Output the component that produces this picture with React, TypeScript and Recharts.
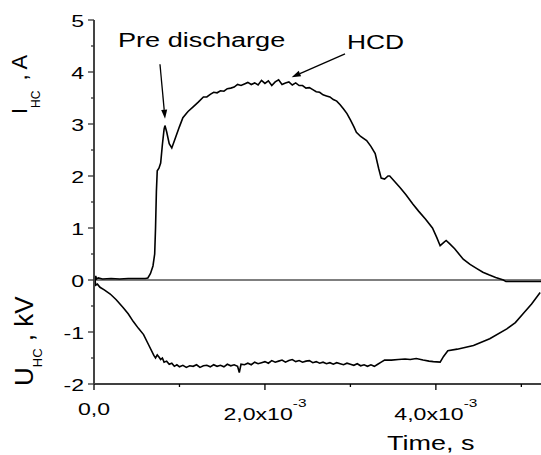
import React from 'react';
import { LineChart, Line, XAxis, YAxis, ReferenceLine } from 'recharts';

const FONT = "'Liberation Sans', Arial, Helvetica, sans-serif";

// time in ms, current in A
const currentTime = [
  0.0, 0.01, 0.02, 0.03, 0.05, 0.1, 0.2, 0.3, 0.4, 0.5, 0.6, 0.63, 0.66, 0.69, 0.71, 0.72, 0.73, 0.74,
  0.76, 0.78, 0.8, 0.82, 0.83, 0.85, 0.88, 0.91, 0.95, 1.0, 1.04, 1.1, 1.16, 1.22,
  1.28, 1.32, 1.36, 1.4, 1.44, 1.48, 1.52, 1.56, 1.6, 1.64, 1.68, 1.72, 1.76, 1.8, 1.84, 1.88, 1.92,
  1.96, 2.0, 2.04, 2.08, 2.12, 2.16, 2.2, 2.24, 2.28, 2.32, 2.36, 2.4, 2.44, 2.48, 2.52, 2.56, 2.6,
  2.64, 2.68, 2.72, 2.76, 2.8, 2.84,
  2.88, 2.92, 2.96, 3.0, 3.04, 3.07, 3.12, 3.19, 3.24, 3.29, 3.33, 3.36, 3.4, 3.44, 3.46, 3.52, 3.58,
  3.65, 3.73, 3.8, 3.88, 3.96, 4.01, 4.05, 4.09, 4.12, 4.16, 4.22, 4.32, 4.4, 4.48, 4.55, 4.62, 4.7,
  4.79, 4.82, 5.0, 5.23,
];
const currentAmps = [
  0.1, -0.02, 0.08, 0.02, 0.04, 0.02, 0.03, 0.02, 0.03, 0.03, 0.03, 0.04, 0.12, 0.27, 0.5, 1.0, 1.7, 2.1,
  2.15, 2.25, 2.6, 2.9, 2.97, 2.85, 2.62, 2.54, 2.72, 2.95, 3.12, 3.24, 3.33, 3.42,
  3.52, 3.52, 3.57, 3.61, 3.6, 3.64, 3.63, 3.68, 3.69, 3.71, 3.76, 3.74, 3.77, 3.8, 3.76, 3.79, 3.75,
  3.84, 3.78, 3.83, 3.74, 3.81, 3.85, 3.76, 3.79, 3.81, 3.75, 3.79, 3.74, 3.74, 3.69, 3.7, 3.66, 3.62,
  3.61, 3.56, 3.54, 3.52, 3.47, 3.44,
  3.37, 3.29, 3.2, 3.08, 2.95, 2.84, 2.76, 2.68, 2.57, 2.43, 2.15, 1.96, 1.94, 2.0, 2.0, 1.89, 1.78,
  1.64, 1.46, 1.32, 1.17, 1.0, 0.82, 0.66, 0.72, 0.76, 0.7, 0.6, 0.4, 0.3, 0.22, 0.15, 0.1, 0.05,
  0.0, -0.03, -0.03, -0.03,
];

// time in ms, voltage in kV
const voltageTime = [
  0.0, 0.005, 0.01, 0.02, 0.04, 0.07, 0.12, 0.19, 0.26, 0.34, 0.4, 0.46, 0.52, 0.58, 0.64, 0.7, 0.72,
  0.74, 0.76, 0.78, 0.8, 0.82, 0.85, 0.88, 0.91, 0.94, 0.97,
  1.0, 1.04, 1.08, 1.12, 1.16, 1.2, 1.24, 1.28, 1.32, 1.36, 1.4, 1.44, 1.48, 1.52, 1.56, 1.6, 1.64,
  1.68, 1.7, 1.72, 1.76, 1.8, 1.84, 1.88, 1.92, 1.96, 2.0, 2.04, 2.08, 2.12, 2.16, 2.2, 2.24, 2.28,
  2.32, 2.36, 2.4, 2.44, 2.48, 2.52, 2.56, 2.6, 2.64, 2.68, 2.72, 2.76, 2.8, 2.84, 2.88, 2.92, 2.96,
  3.0, 3.04, 3.08, 3.12, 3.16, 3.2, 3.24, 3.28, 3.32,
  3.36, 3.4, 3.48, 3.56, 3.64, 3.7, 3.77, 3.85, 3.92, 3.97, 4.05, 4.09, 4.14, 4.25, 4.44, 4.63, 4.83,
  4.93, 5.02, 5.12, 5.22,
];
const voltageKv = [
  0.05, -0.12, 0.02, -0.1, -0.08, -0.14, -0.19, -0.27, -0.38, -0.53, -0.65, -0.8, -0.93, -1.05, -1.25,
  -1.45, -1.5, -1.44, -1.48, -1.53, -1.5, -1.58, -1.56, -1.62, -1.6, -1.66, -1.63,
  -1.67, -1.64, -1.68, -1.65, -1.66, -1.63, -1.68, -1.65, -1.64, -1.67, -1.63, -1.66, -1.64, -1.67,
  -1.62, -1.65, -1.63, -1.66, -1.78, -1.62, -1.63, -1.6, -1.63, -1.58, -1.61, -1.59, -1.57, -1.6,
  -1.55, -1.58, -1.56, -1.54, -1.58, -1.55, -1.53, -1.57, -1.55, -1.58, -1.56, -1.55, -1.59, -1.57,
  -1.6, -1.58, -1.61, -1.59, -1.62, -1.59, -1.61, -1.63, -1.6, -1.62, -1.64, -1.61, -1.65, -1.63,
  -1.66, -1.63, -1.66, -1.62,
  -1.58, -1.54, -1.54, -1.53, -1.52, -1.53, -1.51, -1.54, -1.56, -1.57, -1.58, -1.47, -1.36, -1.33,
  -1.26, -1.13, -0.94, -0.82, -0.65, -0.46, -0.24,
];

// ticks (x in seconds)
const xTicks = [0, 0.001, 0.002, 0.003, 0.004, 0.005];
const xTickLabels = ['0,0', '', '2,0x10', '', '4,0x10', ''];
const yTicks = [-2, -1.5, -1, -0.5, 0, 0.5, 1, 1.5, 2, 2.5, 3, 3.5, 4, 4.5, 5];
const yTickLabels = ['-2', '', '-1', '', '0', '', '1', '', '2', '', '3', '', '4', '', '5'];

// annotation arrows: [start, tip] in (ms, value)
const preArrow = [{ x: 0.772, y: 4.15 }, { x: 0.831, y: 3.1 }];
const hcdArrow = [{ x: 2.937, y: 4.35 }, { x: 2.313, y: 3.9 }];

const currentData = currentTime.map((t, i) => ({ t: t / 1000, v: currentAmps[i] }));
const voltageData = voltageTime.map((t, i) => ({ t: t / 1000, v: voltageKv[i] }));
const toSec = (pts: { x: number; y: number }[]) => pts.map((p) => ({ x: p.x / 1000, y: p.y }));

function XTick({ x, y, payload, index }: any) {
  const label = xTickLabels[index] ?? '';
  const major = label !== '';
  const isZero = payload.value === 0;
  return (
    <g>
      <line x1={x} x2={x} y1={y} y2={y + (major ? 6 : 3)} stroke="#000" strokeWidth={1.3} />
      {major && (
        <text
          transform={`translate(${x},${y + (isZero ? 31 : 36)}) scale(1.4,1)`}
          textAnchor="middle"
          fontSize={16.5}
          fontFamily={FONT}
          fill="#000"
        >
          {label}
          {!isZero && (
            <tspan fontSize={11} dy={-13}>
              -3
            </tspan>
          )}
        </text>
      )}
    </g>
  );
}

function YTick({ x, y, index }: any) {
  const label = yTickLabels[index] ?? '';
  const major = label !== '';
  return (
    <g>
      <line x1={x - (major ? 6 : 3)} x2={x} y1={y} y2={y} stroke="#333" strokeWidth={1.3} />
      {major && (
        <text
          transform={`translate(${x - 10},${y + 6.5}) scale(1.4,1)`}
          textAnchor="end"
          fontSize={16.5}
          fontFamily={FONT}
          fill="#000"
        >
          {label}
        </text>
      )}
    </g>
  );
}

function Arrow(p: any) {
  const { x1, y1, x2, y2 } = p;
  const ang = Math.atan2(y2 - y1, x2 - x1);
  const L = 9;
  const W = 3;
  const bx = x2 - L * Math.cos(ang);
  const by = y2 - L * Math.sin(ang);
  const px = -Math.sin(ang) * W;
  const py = Math.cos(ang) * W;
  return (
    <g>
      <line x1={x1} y1={y1} x2={bx} y2={by} stroke="#000" strokeWidth={1.3} />
      <polygon points={`${x2},${y2} ${bx + px},${by + py} ${bx - px},${by - py}`} fill="#000" />
    </g>
  );
}

export default function App() {
  return (
    <div style={{ position: 'fixed', left: 0, top: 0, background: '#fff' }}>
      <LineChart width={541} height={455} margin={{ top: 20, right: 0, left: 0, bottom: 0 }}>
        <XAxis
          type="number"
          dataKey="t"
          domain={[0, 0.00523]}
          ticks={xTicks}
          interval={0}
          allowDataOverflow
          height={71}
          tickSize={0}
          tickMargin={0}
          tickLine={false}
          tick={XTick}
          axisLine={{ stroke: '#000', strokeWidth: 1.5 }}
        />
        <YAxis
          type="number"
          domain={[-2, 5]}
          ticks={yTicks}
          interval={0}
          allowDataOverflow
          width={94}
          tickSize={0}
          tickMargin={0}
          tickLine={false}
          tick={YTick}
          axisLine={{ stroke: '#444', strokeWidth: 2 }}
        />
        <ReferenceLine y={0} stroke="#555" strokeWidth={1.5} />
        <Line
          data={voltageData}
          dataKey="v"
          type="linear"
          stroke="#000"
          strokeWidth={1.6}
          dot={false}
          isAnimationActive={false}
        />
        <Line
          data={currentData}
          dataKey="v"
          type="linear"
          stroke="#000"
          strokeWidth={1.6}
          dot={false}
          isAnimationActive={false}
        />
        <ReferenceLine segment={toSec(preArrow)} shape={Arrow} />
        <ReferenceLine segment={toSec(hcdArrow)} shape={Arrow} />
        <text transform="translate(118,47) scale(1.39,1)" fontSize={19.5} fontFamily={FONT} fill="#000">
          Pre discharge
        </text>
        <text transform="translate(347,49) scale(1.32,1)" fontSize={20} fontFamily={FONT} fill="#000">
          HCD
        </text>
        <text transform="translate(387,450) scale(1.35,1)" fontSize={20} fontFamily={FONT} fill="#000">
          Time, s
        </text>
        <text transform="translate(27,114) rotate(-90)" fontSize={22} fontFamily={FONT} fill="#000">
          I
          <tspan fontSize={12} dy={13}>
            HC
          </tspan>
          <tspan dy={-13} dx={4}>
            {' , A'}
          </tspan>
        </text>
        <text transform="translate(33,386) rotate(-90)" fontSize={26} fontFamily={FONT} fill="#000">
          U
          <tspan fontSize={13} dy={8.5}>
            HC
          </tspan>
          <tspan dy={-8.5}>{' , kV'}</tspan>
        </text>
      </LineChart>
    </div>
  );
}
